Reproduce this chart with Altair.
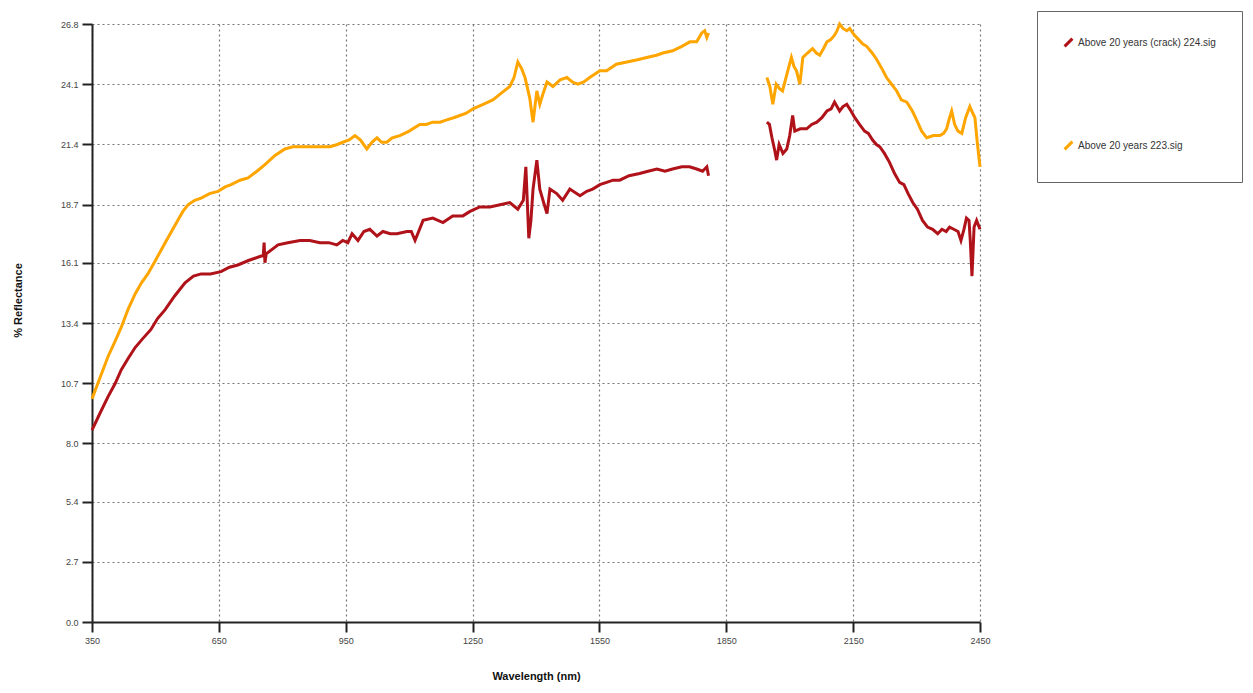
import altair as alt
import pandas as pd

# ---- series names ----
name_red = "Above 20 years (crack) 224.sig"
name_orange = "Above 20 years 223.sig"

# ---- red series (224.sig), segment before the water band ----
red_wl_a = [350, 370, 388, 405, 419, 435, 452, 470, 489, 505, 523, 545, 570, 590, 608, 630, 655, 675, 695, 720,
            750, 755, 757, 759, 762, 790, 813, 842, 865, 889, 910, 929, 943, 955, 965, 979, 993, 1007, 1024, 1038,
            1055, 1071, 1095, 1105, 1114, 1133, 1156, 1180, 1203, 1227, 1244, 1267, 1291, 1315, 1338, 1357, 1370,
            1376, 1383, 1388, 1393, 1402, 1409, 1418, 1426, 1433, 1449, 1463, 1480, 1504, 1520, 1534, 1551, 1567,
            1582, 1598, 1620, 1645, 1665, 1686, 1705, 1723, 1745, 1763, 1780, 1794, 1804, 1808]
red_r_a = [8.6, 9.4, 10.1, 10.7, 11.3, 11.8, 12.3, 12.7, 13.1, 13.6, 14.0, 14.6, 15.2, 15.5, 15.6, 15.6, 15.7, 15.9, 16.0, 16.2,
           16.4, 16.4, 17.0, 16.1, 16.5, 16.9, 17.0, 17.1, 17.1, 17.0, 17.0, 16.9, 17.1, 17.0, 17.4, 17.1, 17.5, 17.6, 17.3, 17.5,
           17.4, 17.4, 17.5, 17.5, 17.1, 18.0, 18.1, 17.9, 18.2, 18.2, 18.4, 18.6, 18.6, 18.7, 18.8, 18.5, 18.9,
           20.4, 17.2, 18.0, 19.4, 20.7, 19.4, 18.8, 18.3, 19.4, 19.2, 18.9, 19.4, 19.1, 19.3, 19.4, 19.6, 19.7,
           19.8, 19.8, 20.0, 20.1, 20.2, 20.3, 20.2, 20.3, 20.4, 20.4, 20.3, 20.2, 20.4, 20.0]

# ---- red series, segment after the water band ----
red_wl_b = [1946, 1952, 1958, 1965, 1969, 1975, 1984, 1993, 2000, 2007, 2012, 2025, 2040, 2052, 2064, 2076, 2088, 2098,
            2106, 2118, 2126, 2135, 2145, 2154, 2165, 2177, 2186, 2196, 2205, 2213, 2224, 2236, 2248, 2260, 2270, 2280,
            2291, 2302, 2314, 2326, 2338, 2350, 2360, 2370, 2378, 2388, 2398, 2405, 2412, 2418, 2424, 2427, 2431, 2436,
            2442, 2450]
red_r_b = [22.4, 22.3, 21.7, 21.1, 20.7, 21.4, 21.0, 21.2, 21.8, 22.7, 22.0, 22.1, 22.1, 22.3, 22.4, 22.6, 22.9, 23.0,
           23.3, 22.9, 23.1, 23.2, 22.9, 22.6, 22.3, 22.0, 21.9, 21.6, 21.4, 21.3, 21.0, 20.6, 20.1, 19.7, 19.6, 19.2,
           18.8, 18.5, 18.0, 17.7, 17.6, 17.4, 17.6, 17.5, 17.7, 17.6, 17.5, 17.1, 17.6, 18.1, 18.0, 17.1, 15.5, 17.7,
           18.0, 17.6]

# ---- orange series (223.sig), segment before the water band ----
orange_wl_a = [350, 370, 388, 405, 419, 435, 452, 467, 482, 500, 523, 538, 553, 565, 577, 593, 608, 628, 648, 665,
               679, 700, 719, 740, 759, 782, 806, 825, 842, 870, 895, 913, 930, 943, 958, 972, 985, 1000, 1012, 1024,
               1035, 1047, 1060, 1078, 1100, 1125, 1140, 1156, 1173, 1189, 1205, 1220, 1235, 1251, 1275, 1298, 1318,
               1338, 1348, 1357, 1366, 1374, 1385, 1393, 1402, 1409, 1417, 1426, 1440, 1457, 1473, 1486, 1499, 1513,
               1527, 1551, 1567, 1590, 1615, 1640, 1662, 1685, 1700, 1723, 1745, 1764, 1780, 1792, 1799, 1804, 1808]
orange_r_a = [10.0, 11.0, 11.9, 12.6, 13.2, 14.0, 14.7, 15.2, 15.6, 16.2, 17.0, 17.5, 18.0, 18.4, 18.7, 18.9, 19.0, 19.2, 19.3, 19.5,
              19.6, 19.8, 19.9, 20.2, 20.5, 20.9, 21.2, 21.3, 21.3, 21.3, 21.3, 21.3, 21.4, 21.5, 21.6, 21.8, 21.6, 21.2, 21.5, 21.7,
              21.5, 21.5, 21.7, 21.8, 22.0, 22.3, 22.3, 22.4, 22.4, 22.5, 22.6, 22.7, 22.8, 23.0, 23.2, 23.4, 23.7,
              24.0, 24.4, 25.1, 24.8, 24.4, 23.5, 22.4, 23.8, 23.2, 23.7, 24.2, 24.0, 24.3, 24.4, 24.2, 24.1, 24.2,
              24.4, 24.7, 24.7, 25.0, 25.1, 25.2, 25.3, 25.4, 25.5, 25.6, 25.8, 26.0, 26.0, 26.4, 26.5, 26.2, 26.4]

# ---- orange series, segment after the water band ----
orange_wl_b = [1946, 1953, 1960, 1968, 1976, 1983, 1994, 2004, 2010, 2016, 2024, 2031, 2042, 2054, 2063, 2071, 2080,
               2088, 2097, 2106, 2112, 2118, 2126, 2135, 2142, 2149, 2158, 2173, 2182, 2195, 2206, 2218, 2229, 2241,
               2253, 2264, 2277, 2290, 2300, 2312, 2324, 2340, 2355, 2364, 2371, 2378, 2383, 2390, 2398, 2407, 2416,
               2426, 2433, 2438, 2443, 2450]
orange_r_b = [24.4, 24.0, 23.2, 24.1, 23.9, 23.8, 24.6, 25.3, 24.9, 24.7, 24.1, 25.3, 25.5, 25.7, 25.5, 25.4, 25.7,
              26.0, 26.1, 26.3, 26.5, 26.8, 26.6, 26.5, 26.6, 26.4, 26.2, 25.9, 25.8, 25.5, 25.2, 24.8, 24.4, 24.1,
              23.8, 23.4, 23.3, 22.9, 22.5, 22.0, 21.7, 21.8, 21.8, 21.9, 22.1, 22.6, 22.9, 22.3, 22.0, 21.9, 22.6,
              23.1, 22.8, 22.6, 21.6, 20.4]

# ---- axis ticks ----
x_ticks = [350, 650, 950, 1250, 1550, 1850, 2150, 2450]
y_ticks = [0.0, 2.7, 5.4, 8.0, 10.7, 13.4, 16.1, 18.7, 21.4, 24.1, 26.8]

series_names = [name_red, name_orange]
series_colors = ["#B0121A", "#FFA500"]

frames = []
for name, seg, wl, r in [
    (name_red, "a", red_wl_a, red_r_a),
    (name_red, "b", red_wl_b, red_r_b),
    (name_orange, "a", orange_wl_a, orange_r_a),
    (name_orange, "b", orange_wl_b, orange_r_b),
]:
    frames.append(pd.DataFrame({"wavelength": wl, "reflectance": r, "series": name, "segment": name + seg}))
df = pd.concat(frames, ignore_index=True)

FONT = "Liberation Sans"

chart = alt.Chart(df).mark_line(strokeWidth=3).encode(
    x=alt.X("wavelength:Q",
            scale=alt.Scale(domain=[350, 2450], nice=False, zero=False),
            axis=alt.Axis(values=x_ticks, title="Wavelength (nm)", format="d", labelFlush=False,
                          titleY=54, titleBaseline="middle")),
    y=alt.Y("reflectance:Q",
            scale=alt.Scale(domain=[0, 26.8], nice=False),
            axis=alt.Axis(values=y_ticks, title="% Reflectance", format=".1f", labelFlush=False,
                          titleAngle=270, titleX=-74, titleY=276,
                          titleAlign="center", titleBaseline="middle")),
    color=alt.Color("series:N",
                    scale=alt.Scale(domain=series_names, range=series_colors),
                    legend=alt.Legend(title=None, orient="none", legendX=945, legendY=-13,
                                      padding=26, rowPadding=82, strokeColor="#666", fillColor="white",
                                      symbolType="M-1,1L1,-1", symbolSize=60, symbolStrokeWidth=3,
                                      labelFont=FONT, labelFontSize=10, labelColor="#333", labelOffset=4)),
    detail="segment:N",
    order="wavelength:Q",
).properties(
    width=888, height=598,
    autosize=alt.AutoSizeParams(type="none"),
    padding={"left": 84, "top": 16, "right": 265, "bottom": 62},
).configure_view(
    stroke=None
).configure_axis(
    labelFont=FONT, labelFontSize=9, labelColor="#444",
    titleFont=FONT, titleFontSize=11, titleFontWeight="bold", titleColor="#111",
    domainColor="#222", domainWidth=2,
    tickColor="#222", tickWidth=2, tickSize=10,
    gridColor="#777", gridDash=[2, 3], gridWidth=1.2, gridOpacity=1,
    labelPadding=4,
)

chart.save("out.html", embed_options={"renderer": "svg", "actions": False})
